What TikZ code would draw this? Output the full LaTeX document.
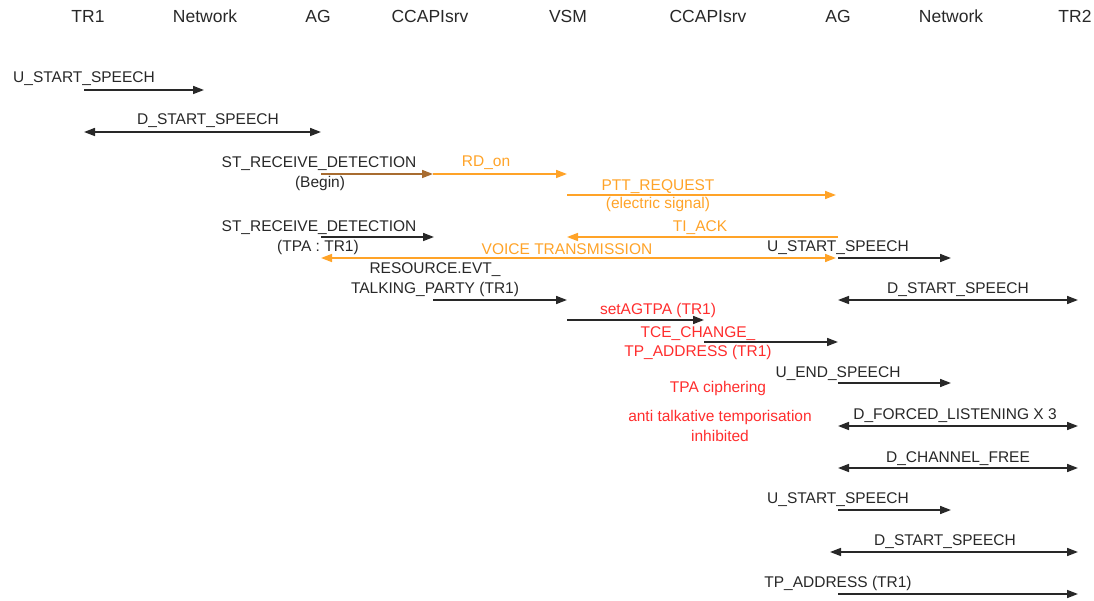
\documentclass[tikz,border=0pt]{standalone}
\usepackage{fontspec}
\setmainfont{Liberation Sans}
\usetikzlibrary{arrows.meta}
\definecolor{msgdark}{RGB}{40,40,40}
\definecolor{msgorange}{RGB}{255,163,40}
\definecolor{msgred}{RGB}{255,45,45}
\definecolor{msgbrown}{RGB}{168,108,48}
\tikzset{
  hdr/.style={font=\fontsize{17.5}{20}\selectfont, text=msgdark, inner sep=0pt},
  lbl/.style={font=\fontsize{15.5}{18}\selectfont, text=msgdark, inner sep=0pt, yshift=-1.5pt},
  olbl/.style={lbl, text=msgorange},
  rlbl/.style={lbl, text=msgred},
  msg/.style={draw=msgdark, line width=1.6pt, -{Triangle[length=11pt,width=8pt]}},
  bimsg/.style={draw=msgdark, line width=1.6pt, {Triangle[length=11pt,width=8pt]}-{Triangle[length=11pt,width=8pt]}},
  omsg/.style={msg, draw=msgorange},
  obimsg/.style={bimsg, draw=msgorange},
  bmsg/.style={msg, draw=msgbrown},
}
\begin{document}
\begin{tikzpicture}[x=1pt,y=-1pt]
\useasboundingbox (0,0) rectangle (1094,601);
% headers
\node[hdr] (hTRa) at (88,16) {TR1};
\node[hdr] (hNETa) at (205,16) {Network};
\node[hdr] (hAGa) at (318,16) {AG};
\node[hdr] (hCCa) at (430,16) {CCAPIsrv};
\node[hdr] (hVSM) at (568,16) {VSM};
\node[hdr] (hCCb) at (708,16) {CCAPIsrv};
\node[hdr] (hAGb) at (838,16) {AG};
\node[hdr] (hNETb) at (951,16) {Network};
\node[hdr] (hTRb) at (1075,16) {TR2};

% endpoints
\coordinate (m1a) at (84,90);   \coordinate (m1b) at (204,90);
\coordinate (m2a) at (84,132);  \coordinate (m2b) at (321,132);
\coordinate (m3a) at (321,174); \coordinate (m3b) at (433,174);
\coordinate (m4b) at (567,174);
\coordinate (m5a) at (567,195); \coordinate (m5b) at (836,195);
\coordinate (m6a) at (321,237); \coordinate (m6b) at (434,237);
\coordinate (m7a) at (838,237); \coordinate (m7b) at (567,237);
\coordinate (m8a) at (321,258); \coordinate (m8b) at (836,258);
\coordinate (m9a) at (838,258); \coordinate (m9b) at (951,258);
\coordinate (m10a) at (433,300); \coordinate (m10b) at (567,300);
\coordinate (m11a) at (838,300); \coordinate (m11b) at (1078,300);
\coordinate (m12a) at (567,320); \coordinate (m12b) at (704,320);
\coordinate (m13a) at (704,342); \coordinate (m13b) at (838,342);
\coordinate (m14a) at (838,383); \coordinate (m14b) at (951,383);
\coordinate (m15a) at (838,426); \coordinate (m15b) at (1078,426);
\coordinate (m16a) at (838,468); \coordinate (m16b) at (1078,468);
\coordinate (m17a) at (838,510); \coordinate (m17b) at (951,510);
\coordinate (m18a) at (830,552); \coordinate (m18b) at (1078,552);
\coordinate (m19a) at (838,594); \coordinate (m19b) at (1078,594);

% connectors
\draw[omsg] (m3b) -- (m4b);
\draw[msg] (m1a) -- (m1b);
\draw[bimsg] (m2a) -- (m2b);
\draw[bmsg] (m3a) -- (m3b);
\draw[omsg] (m5a) -- (m5b);
\draw[msg] (m6a) -- (m6b);
\draw[omsg] (m7a) -- (m7b);
\draw[obimsg] (m8a) -- (m8b);
\draw[msg] (m9a) -- (m9b);
\draw[msg] (m10a) -- (m10b);
\draw[bimsg] (m11a) -- (m11b);
\draw[msg] (m12a) -- (m12b);
\draw[msg] (m13a) -- (m13b);
\draw[msg] (m14a) -- (m14b);
\draw[bimsg] (m15a) -- (m15b);
\draw[bimsg] (m16a) -- (m16b);
\draw[msg] (m17a) -- (m17b);
\draw[bimsg] (m18a) -- (m18b);
\draw[msg] (m19a) -- (m19b);

% labels
\node[lbl] (l1) at (84,77) {U\_START\_SPEECH};
\node[lbl] (l2) at (208,119) {D\_START\_SPEECH};
\node[lbl] (l3) at (319,162) {ST\_RECEIVE\_DETECTION};
\node[lbl] (l3b) at (320,182) {(Begin)};
\node[olbl] (l4) at (486,161) {RD\_on};
\node[olbl] (l5) at (658,185) {PTT\_REQUEST};
\node[olbl] (l5b) at (658,203) {(electric signal)};
\node[lbl] (l6) at (319,226) {ST\_RECEIVE\_DETECTION};
\node[lbl] (l6b) at (318,246) {(TPA : TR1)};
\node[olbl] (l7) at (700,226) {TI\_ACK};
\node[olbl] (l8) at (567,248) {VOICE TRANSMISSION};
\node[lbl] (l9) at (838,246) {U\_START\_SPEECH};
\node[lbl] (l10) at (435,268) {RESOURCE.EVT\_};
\node[lbl] (l10b) at (435,288) {TALKING\_PARTY (TR1)};
\node[lbl] (l11) at (958,288) {D\_START\_SPEECH};
\node[rlbl] (l12) at (658,309) {setAGTPA (TR1)};
\node[rlbl] (l13) at (698,332) {TCE\_CHANGE\_};
\node[rlbl] (l13b) at (698,351) {TP\_ADDRESS (TR1)};
\node[lbl] (l14) at (838,372) {U\_END\_SPEECH};
\node[rlbl] (n1) at (718,387) {TPA ciphering};
\node[rlbl] (n2) at (720,416) {anti talkative temporisation};
\node[rlbl] (n2b) at (720,434) {inhibited};
\node[lbl] (l15) at (955,414) {D\_FORCED\_LISTENING X 3};
\node[lbl] (l16) at (958,457) {D\_CHANNEL\_FREE};
\node[lbl] (l17) at (838,498) {U\_START\_SPEECH};
\node[lbl] (l18) at (945,540) {D\_START\_SPEECH};
\node[lbl] (l19) at (838,582) {TP\_ADDRESS (TR1)};
\end{tikzpicture}
\end{document}
